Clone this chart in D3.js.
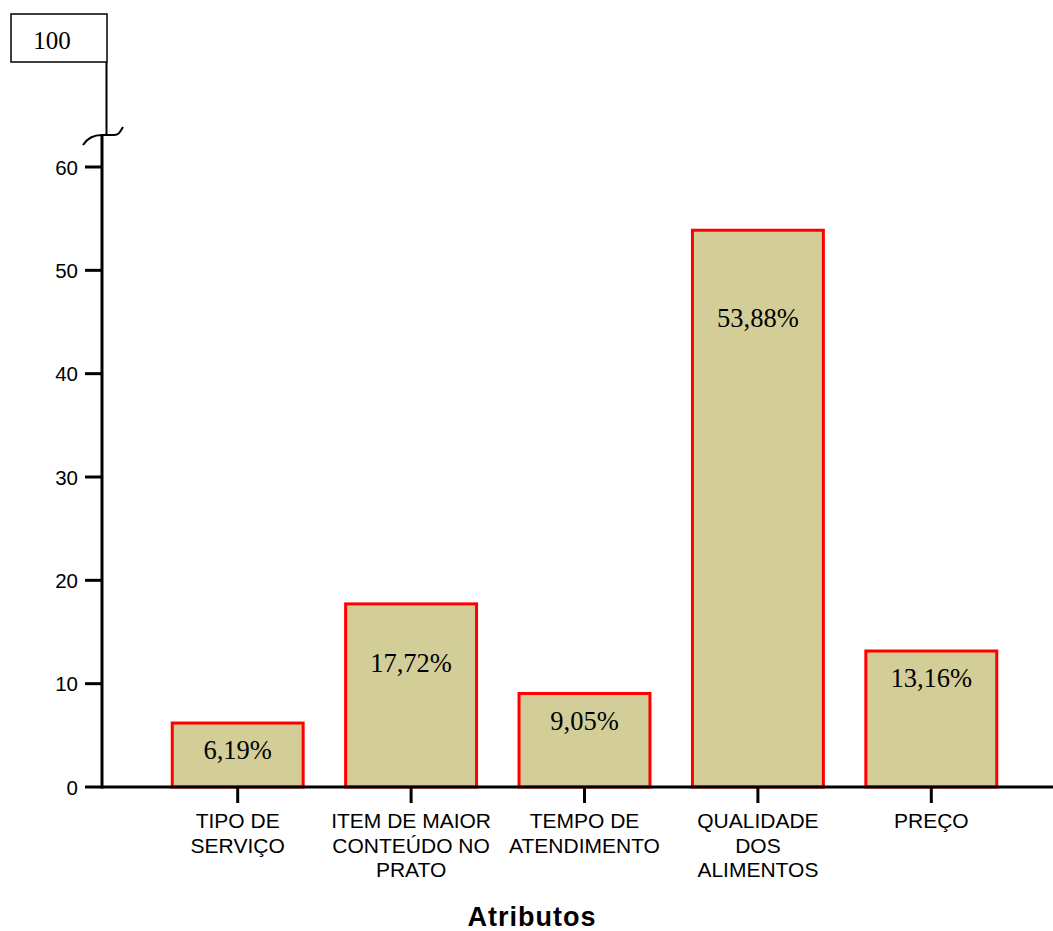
<!DOCTYPE html>
<html><head><meta charset="utf-8">
<script src="https://cdn.jsdelivr.net/npm/d3@7"></script>
<style>body{margin:0;background:#fff}svg{display:block}</style>
</head><body>
<script>
const categories = [["TIPO DE","SERVIÇO"],["ITEM DE MAIOR","CONTEÚDO NO","PRATO"],["TEMPO DE","ATENDIMENTO"],["QUALIDADE","DOS","ALIMENTOS"],["PREÇO"]];
const values = [6.19, 17.72, 9.05, 53.88, 13.16];
const valueLabels = ["6,19%","17,72%","9,05%","53,88%","13,16%"];
const yTicks = [0,10,20,30,40,50,60];
const breakLabel = "100";
const xTitle = "Atributos";

const W = 1053, H = 931;
const svg = d3.select("body").append("svg").attr("width", W).attr("height", H);

const keys = categories.map((c,i)=>"c"+i);
const x = d3.scaleBand().domain(keys).range([151, 1018]).paddingInner(0.245).paddingOuter(0.1225);
const y = d3.scaleLinear().domain([0, 60]).range([787, 167]);
const axisX = 102;
const axisTopY = 135;

// bars
const labelOffsets = [36, 68, 37, 97, 36];
keys.forEach((k,i)=>{
  svg.append("rect")
    .attr("x", x(k)).attr("y", y(values[i]))
    .attr("width", x.bandwidth()).attr("height", y(0)-y(values[i]))
    .attr("fill", "#d3ce98").attr("stroke", "#ff0000").attr("stroke-width", 3);
  svg.append("text")
    .attr("x", x(k)+x.bandwidth()/2).attr("y", y(values[i]) + labelOffsets[i])
    .attr("text-anchor","middle")
    .attr("font-family","'Liberation Serif', 'Times New Roman', serif")
    .attr("font-size", 26.5).attr("fill","#000")
    .text(valueLabels[i]);
});

// x axis
svg.append("line").attr("x1", axisX).attr("x2", W).attr("y1", y(0)).attr("y2", y(0))
  .attr("stroke","#000").attr("stroke-width",3);
keys.forEach((k,i)=>{
  const cx = x(k)+x.bandwidth()/2;
  svg.append("line").attr("x1",cx).attr("x2",cx).attr("y1",y(0)).attr("y2",y(0)+16)
    .attr("stroke","#000").attr("stroke-width",3);
  const t = svg.append("text").attr("text-anchor","middle")
    .attr("font-family","'Liberation Sans', Arial, sans-serif").attr("font-size",21).attr("fill","#000");
  categories[i].forEach((line,j)=>{
    t.append("tspan").attr("x",cx).attr("y",828 + j*24.5).text(line);
  });
});

// y axis
svg.append("line").attr("x1",axisX).attr("x2",axisX).attr("y1",y(0)+1.5).attr("y2",axisTopY)
  .attr("stroke","#000").attr("stroke-width",3);
yTicks.forEach(v=>{
  svg.append("line").attr("x1",axisX-17).attr("x2",axisX).attr("y1",y(v)).attr("y2",y(v))
    .attr("stroke","#000").attr("stroke-width",3);
  svg.append("text").attr("x",78).attr("y",y(v)+7.5).attr("text-anchor","end")
    .attr("font-family","'Liberation Sans', Arial, sans-serif").attr("font-size",20.5).attr("fill","#000")
    .text(v);
});

// axis break
svg.append("path")
  .attr("d", `M83,145 C88,137 94,135 ${axisX},135 L114,135 C119,135 120,132 123,127`)
  .attr("fill","none").attr("stroke","#000").attr("stroke-width",2);
svg.append("line").attr("x1",106.5).attr("x2",106.5).attr("y1",62).attr("y2",135)
  .attr("stroke","#000").attr("stroke-width",2);
svg.append("rect").attr("x",11).attr("y",14).attr("width",96).attr("height",48)
  .attr("fill","#fff").attr("stroke","#000").attr("stroke-width",1.5);
svg.append("text").attr("x",52).attr("y",49).attr("text-anchor","middle")
  .attr("font-family","'Liberation Serif', 'Times New Roman', serif").attr("font-size",25).attr("fill","#000")
  .text(breakLabel);

// title
svg.append("text").attr("x",532).attr("y",926).attr("text-anchor","middle")
  .attr("font-family","'Liberation Sans', Arial, sans-serif").attr("font-size",27).attr("font-weight","bold")
  .attr("letter-spacing", 1)
  .attr("fill","#000").text(xTitle);
</script>
</body></html>
